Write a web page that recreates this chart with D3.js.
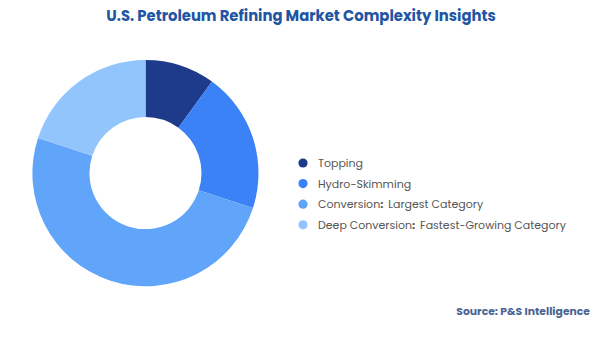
<!DOCTYPE html>
<html>
<head>
<meta charset="utf-8">
<script src="https://cdn.jsdelivr.net/npm/d3@7.9.0/dist/d3.min.js"></script>
<style>
  body { margin: 0; background: #fff; }
  svg { display: block; font-family: "Poppins", "Inter", "Noto Sans", sans-serif; }
</style>
</head>
<body>
<svg width="600" height="337"></svg>
<script>
const categories = ["Topping", "Hydro-Skimming", "Conversion", "Deep Conversion"];
const notes = ["", "", "Largest Category", "Fastest-Growing Category"];
const shares = [10, 20, 50, 20];
const colors = ["#1e3a8a", "#3b82f6", "#60a5fa", "#93c5fd"];

const svg = d3.select("svg");

svg.append("text")
    .attr("x", 301).attr("y", 21)
    .attr("text-anchor", "middle")
    .attr("font-size", 14.8).attr("font-weight", 700)
    .attr("fill", "#2155a3")
    .text("U.S. Petroleum Refining Market Complexity Insights");

const data = categories.map((c, i) => ({ label: c, note: notes[i], value: shares[i] }));
const color = d3.scaleOrdinal().domain(categories).range(colors);

const pie = d3.pie().value(d => d.value).sort(null);
const arc = d3.arc().innerRadius(56).outerRadius(113);

const chart = svg.append("g").attr("transform", "translate(145.5,173)");
chart.selectAll("path")
    .data(pie(data))
    .join("path")
    .attr("d", arc)
    .attr("fill", d => color(d.data.label));

// legend
const legend = svg.append("g").attr("transform", "translate(303,163)");
const items = legend.selectAll("g")
    .data(data)
    .join("g")
    .attr("transform", (d, i) => `translate(0,${i * 20.6})`);

items.append("circle").attr("r", 4.6).attr("fill", d => color(d.label));

const txt = items.append("text")
    .attr("x", 15).attr("y", 4)
    .attr("font-size", 11)
    .attr("fill", "#555");
txt.append("tspan").text(d => d.label);
txt.filter(d => d.note).append("tspan").attr("font-weight", 700).text(":");
txt.filter(d => d.note).append("tspan").attr("dx", 5).text(d => d.note);

svg.append("text")
    .attr("x", 590).attr("y", 315)
    .attr("text-anchor", "end")
    .attr("font-size", 10.8).attr("font-weight", 700)
    .attr("fill", "#4a6494")
    .text("Source: P&S Intelligence");
</script>
</body>
</html>
